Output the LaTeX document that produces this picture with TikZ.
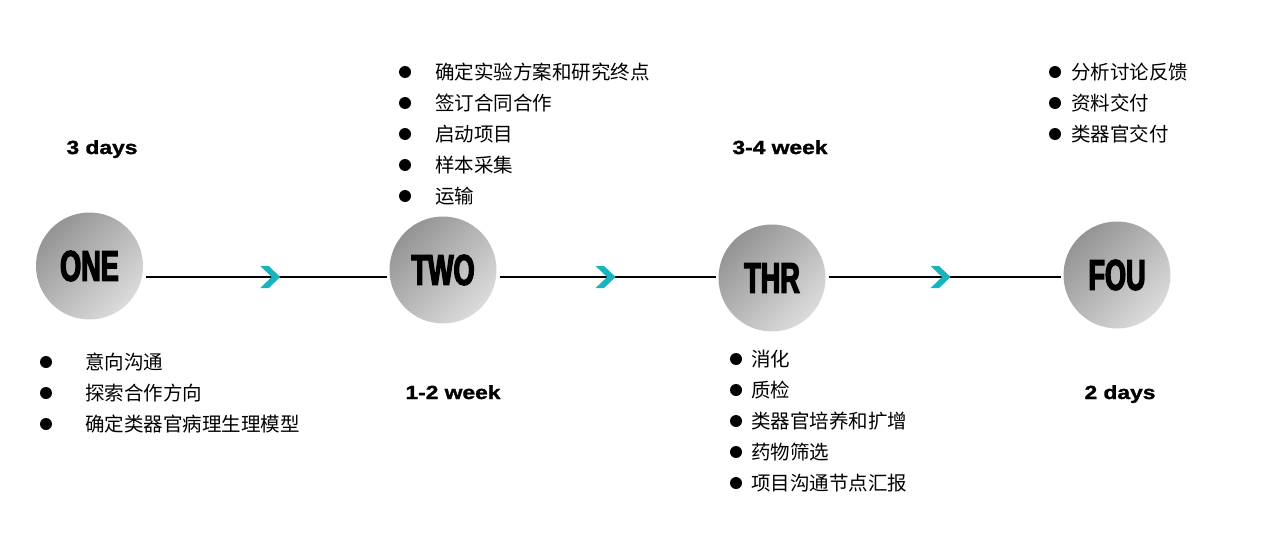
\documentclass[tikz,border=0pt]{standalone}
\usepackage{fontspec}
\setmainfont{Liberation Sans}
\newfontfamily\cjk{Noto Sans CJK SC}
\newfontfamily\stagefont{Liberation Sans}[FakeStretch=0.63,FakeBold=3]
\newfontfamily\timefont{Liberation Sans}[FakeStretch=1.2,FakeBold=1.5]
\usetikzlibrary{positioning}
\definecolor{tealc}{RGB}{23,180,190}

\begin{document}
\begin{tikzpicture}[
  x=1pt, y=-1pt,
  stage/.style={circle, minimum size=107pt, inner sep=0pt, outer sep=3pt,
                top color=black!42, bottom color=black!14, shading angle=45,
                font=\stagefont\bfseries\fontsize{43}{43}\selectfont},
  timing/.style={font=\timefont\bfseries\fontsize{19}{22}\selectfont,
                 anchor=base, inner sep=0pt},
  item/.style={font=\cjk\fontsize{19.5}{22}\selectfont, anchor=west, inner sep=0pt},
  link/.style={line width=1.1pt},
  chev/.pic={\fill[tealc] (0,-11) -- (8.5,-11) -- (20,0) -- (8.5,11) -- (0,11) -- (11.5,0) -- cycle;}
]
\useasboundingbox (0,0) rectangle (1275,538);
\coordinate (axis) at (0,277);

\node[stage] (one) at (89.5,266) {ONE};
\node[stage] (two) at (443,270) {TWO};
\node[stage] (thr) at (772,278) {THR};
\node[stage] (fou) at (1117,275) {FOU};

\draw[link] (one.east |- axis) -- (two.west |- axis) pic[pos=.475]{chev};
\draw[link] (two.east |- axis) -- (thr.west |- axis) pic[pos=.445]{chev};
\draw[link] (thr.east |- axis) -- (fou.west |- axis) pic[pos=.44]{chev};

\node[timing] (t-one) at (102,154) {3 days};
\node[timing] (t-two) at (453,399) {1-2 week};
\node[timing] (t-thr) at (780,154) {3-4 week};
\node[timing] (t-fou) at (1120,399) {2 days};

\foreach \t [count=\i] in {意向沟通, 探索合作方向, 确定类器官病理生理模型} {
  \fill (46,331+31*\i) circle (6);
  \node[item] (one-\i) at (85,331+31*\i) {\t};
}
\foreach \t [count=\i] in {确定实验方案和研究终点, 签订合同合作, 启动项目, 样本采集, 运输} {
  \fill (405,41+31*\i) circle (6);
  \node[item] (two-\i) at (435,41+31*\i) {\t};
}
\foreach \t [count=\i] in {消化, 质检, 类器官培养和扩增, 药物筛选, 项目沟通节点汇报} {
  \fill (736,328+31*\i) circle (6);
  \node[item] (thr-\i) at (751,328+31*\i) {\t};
}
\foreach \t [count=\i] in {分析讨论反馈, 资料交付, 类器官交付} {
  \fill (1055,41+31*\i) circle (6);
  \node[item] (fou-\i) at (1071,41+31*\i) {\t};
}
\end{tikzpicture}
\end{document}
